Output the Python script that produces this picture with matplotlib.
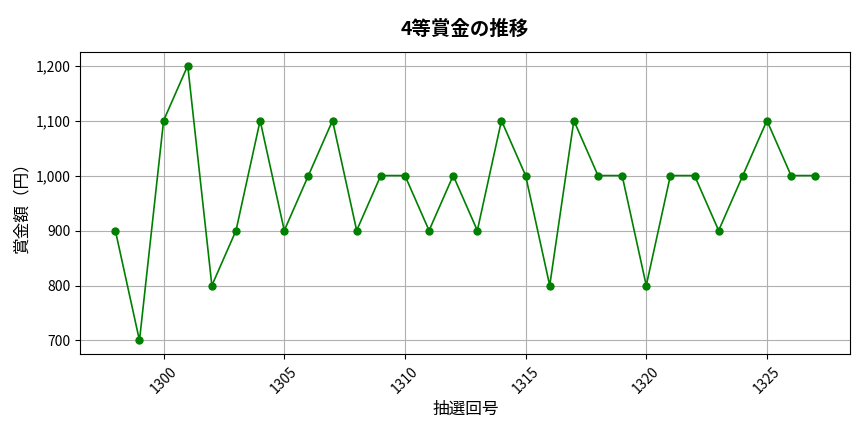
import matplotlib
matplotlib.use('Agg')
from matplotlib import pyplot as plt
from matplotlib.ticker import FuncFormatter

plt.rcParams['font.family'] = ['Noto Sans CJK JP', 'DejaVu Sans']

draws = list(range(1298, 1328))
prizes = [900, 700, 1100, 1200, 800, 900, 1100, 900, 1000, 1100,
          900, 1000, 1000, 900, 1000, 900, 1100, 1000, 800, 1100,
          1000, 1000, 800, 1000, 1000, 900, 1000, 1100, 1000, 1000]

fig, ax = plt.subplots(figsize=(8.64, 4.32), dpi=100)
ax.plot(draws, prizes, color='green', marker='o', markersize=5, linewidth=1.2)
ax.set_title('4等賞金の推移', fontsize=14, fontweight='bold', pad=12)
ax.set_xlabel('抽選回号', fontsize=12)
ax.set_ylabel('賞金額（円）', fontsize=12)
ax.yaxis.set_major_formatter(FuncFormatter(lambda v, p: f'{int(v):,}'))
ax.tick_params(axis='x', rotation=45)
ax.grid(True, color='#b0b0b0', linewidth=0.8)
fig.subplots_adjust(left=0.093, right=0.984, top=0.88, bottom=0.18)
fig.savefig('out.png')
